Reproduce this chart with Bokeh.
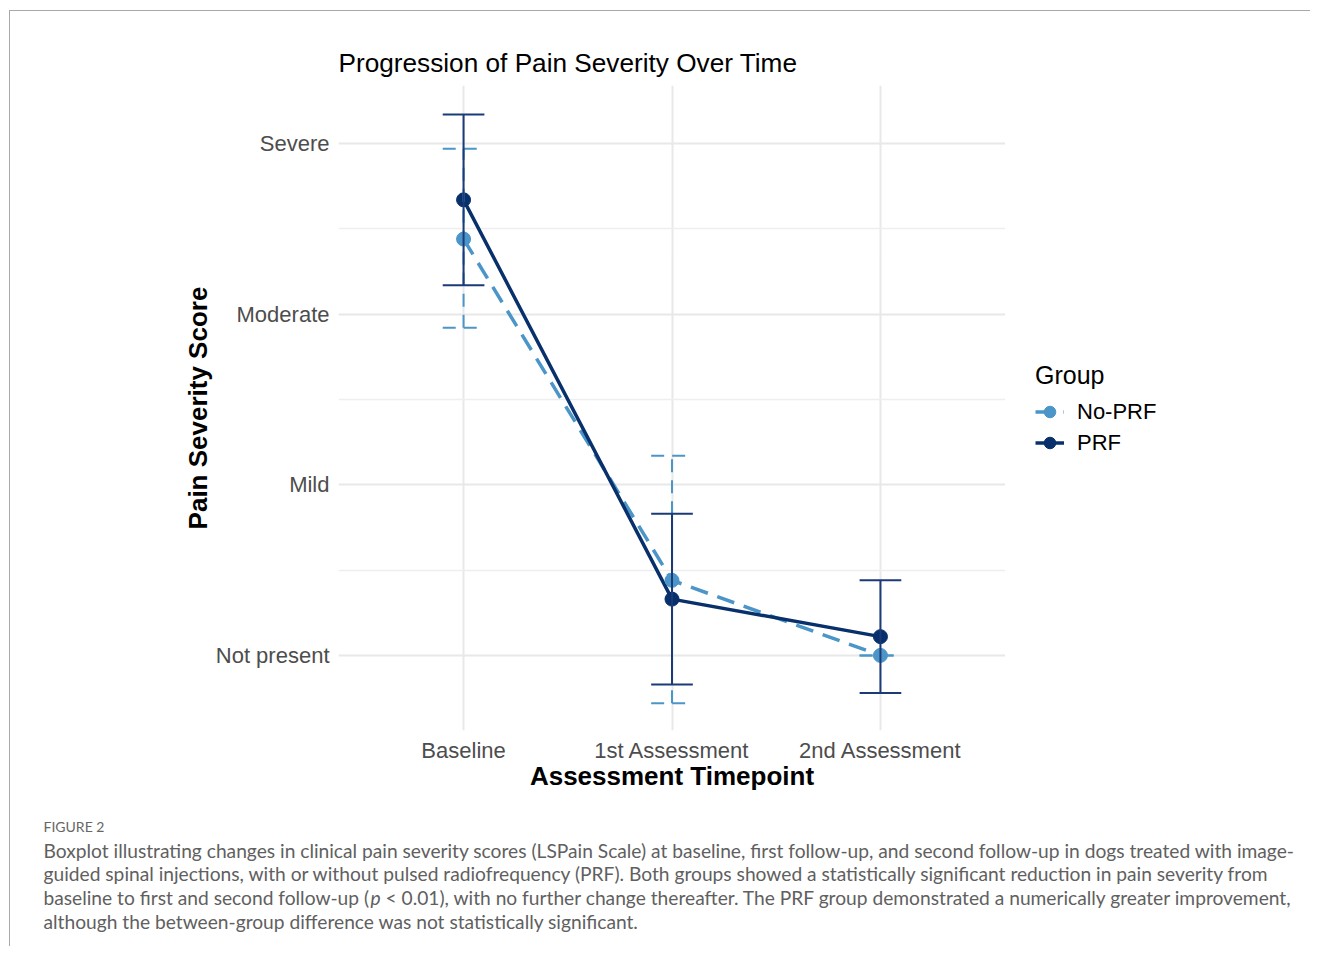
from bokeh.plotting import figure
from bokeh.layouts import column, row
from bokeh.models import FixedTicker, Legend, LegendItem, Label, Range1d, Title
from bokeh.embed import file_html
from bokeh.resources import INLINE

# ---------------- data ----------------
timepoints = ["Baseline", "1st Assessment", "2nd Assessment"]
timepoint_pos = [1, 2, 3]
severity_levels = ["Not present", "Mild", "Moderate", "Severe"]
severity_pos = [0, 1, 2, 3]
severity_minor = [0.5, 1.5, 2.5]

noprf_mean = [2.44, 0.44, 0.0]
noprf_low = [1.92, -0.28, 0.0]
noprf_high = [2.97, 1.17, 0.0]

prf_mean = [2.67, 0.33, 0.11]
prf_low = [2.17, -0.17, -0.22]
prf_high = [3.17, 0.83, 0.44]

group_names = ["No-PRF", "PRF"]

title_text = "Progression of Pain Severity Over Time"
x_label = "Assessment Timepoint"
y_label = "Pain Severity Score"
legend_title = "Group"
caption_head = "FIGURE 2"
caption_lines = [
    "Boxplot illustrating changes in clinical pain severity scores (LSPain Scale) at baseline, first follow-up, and second follow-up in dogs treated with image-",
    "guided spinal injections, with or without pulsed radiofrequency (PRF). Both groups showed a statistically significant reduction in pain severity from",
    "baseline to first and second follow-up (",
    "although the between-group difference was not statistically significant.",
]
caption_p = "p"
caption_line3_rest = "< 0.01), with no further change thereafter. The PRF group demonstrated a numerically greater improvement,"

# ---------------- style ----------------
NOPRF_COLOR = "#4b95c8"
PRF_COLOR = "#08306b"
ERR_PRF_COLOR = "#1a3a78"
FONT = "Liberation Sans"
CAP_FONT = "Lato"

OX, OY = 10, 11                       # page position of canvas origin
TOTAL_W, TOTAL_H = 1300, 935
FL, FT, FR, FB = 338, 85, 1005, 730   # plot frame edges in page px
MAIN_W = FR - OX
MAIN_H = 799
LEG_W = TOTAL_W - MAIN_W
CAP_H = TOTAL_H - MAIN_H

# ---------------- main plot ----------------
p = figure(width=MAIN_W, height=MAIN_H, output_backend="svg", toolbar_location=None,
           x_range=Range1d(0.4, 3.6), y_range=Range1d(-0.44, 3.34),
           min_border_left=FL - OX, min_border_top=FT - OY,
           min_border_right=0, min_border_bottom=OY + MAIN_H - FB)
p.title = Title(text=title_text, align="left", text_font=FONT, text_font_size="26.2px",
                text_font_style="normal", text_color="black", standoff=15)
p.outline_line_color = None
p.background_fill_color = "white"
p.border_fill_color = "white"

p.xaxis.ticker = FixedTicker(ticks=timepoint_pos)
p.xaxis.major_label_overrides = {k: v for k, v in zip(timepoint_pos, timepoints)}
p.yaxis.ticker = FixedTicker(ticks=severity_pos, minor_ticks=severity_minor)
p.yaxis.major_label_overrides = {k: v for k, v in zip(severity_pos, severity_levels)}
for ax in (p.xaxis[0], p.yaxis[0]):
    ax.axis_line_color = None
    ax.major_tick_line_color = None
    ax.minor_tick_line_color = None
    ax.major_tick_out = 0
    ax.major_tick_in = 0
    ax.major_label_text_font = FONT
    ax.major_label_text_font_size = "22px"
    ax.major_label_text_color = "#4d4d4d"
    ax.axis_label_text_font = FONT
    ax.axis_label_text_font_size = "26px"
    ax.axis_label_text_font_style = "bold"
    ax.axis_label_text_color = "black"
p.xaxis.axis_label = x_label
p.yaxis.axis_label = y_label
p.xaxis.major_label_standoff = 7
p.yaxis.major_label_standoff = 5
p.xaxis.axis_label_standoff = -5
p.yaxis.axis_label_standoff = 0

p.xgrid.ticker = FixedTicker(ticks=timepoint_pos)
p.xgrid.grid_line_color = "#e8e8e8"
p.xgrid.grid_line_width = 2
p.ygrid.ticker = FixedTicker(ticks=severity_pos, minor_ticks=severity_minor)
p.ygrid.grid_line_color = "#e8e8e8"
p.ygrid.grid_line_width = 2
p.ygrid.minor_grid_line_color = "#eeeeee"
p.ygrid.minor_grid_line_width = 1.5

p.line(timepoint_pos, noprf_mean, line_color=NOPRF_COLOR, line_width=3.5, line_dash="18 10")
p.line(timepoint_pos, prf_mean, line_color=PRF_COLOR, line_width=3.5)
p.scatter(timepoint_pos, noprf_mean, size=14, fill_color=NOPRF_COLOR, line_color=NOPRF_COLOR)
p.scatter(timepoint_pos, prf_mean, size=14, fill_color=PRF_COLOR, line_color=PRF_COLOR)

cap = 0.1
def errorbars(lo, hi, color, dash):
    p.segment(timepoint_pos, lo, timepoint_pos, hi, line_color=color, line_width=2, line_dash=dash)
    xl = [x - cap for x in timepoint_pos]
    xr = [x + cap for x in timepoint_pos]
    p.segment(xl, hi, xr, hi, line_color=color, line_width=2, line_dash=dash)
    p.segment(xl, lo, xr, lo, line_color=color, line_width=2, line_dash=dash)

errorbars(noprf_low, noprf_high, NOPRF_COLOR, "13 8")
errorbars(prf_low, prf_high, ERR_PRF_COLOR, "solid")

# ---------------- legend panel ----------------
def blank_fig(w, h):
    f = figure(width=w, height=h, output_backend="svg", toolbar_location=None,
               x_axis_type=None, y_axis_type=None,
               x_range=Range1d(100, 101), y_range=Range1d(100, 101),
               min_border=0, min_border_left=0, min_border_right=0,
               min_border_top=0, min_border_bottom=0)
    f.title.visible = False
    f.outline_line_color = None
    f.grid.visible = False
    f.background_fill_color = "white"
    f.border_fill_color = "white"
    return f

lf = blank_fig(LEG_W, MAIN_H)
# same series drawn outside this panel's visible range: they only feed the legend glyphs
lg_l_no = lf.line(timepoint_pos, noprf_mean, line_color=NOPRF_COLOR, line_width=3.5, line_dash="18 10")
lg_s_no = lf.scatter(timepoint_pos, noprf_mean, size=14, fill_color=NOPRF_COLOR, line_color=NOPRF_COLOR)
lg_l_prf = lf.line(timepoint_pos, prf_mean, line_color=PRF_COLOR, line_width=3.5)
lg_s_prf = lf.scatter(timepoint_pos, prf_mean, size=14, fill_color=PRF_COLOR, line_color=PRF_COLOR)
LEG_BOTTOM = 456
legend = Legend(items=[LegendItem(label=group_names[0], renderers=[lg_l_no, lg_s_no]),
                       LegendItem(label=group_names[1], renderers=[lg_l_prf, lg_s_prf])],
                title=legend_title, location=(1035 - FR, 728 - LEG_BOTTOM), orientation="vertical",
                title_text_font=FONT, title_text_font_size="25px", title_text_font_style="normal",
                title_text_color="black", title_standoff=6,
                label_text_font=FONT, label_text_font_size="22px", label_text_color="black",
                glyph_width=29, glyph_height=31, label_height=31, label_standoff=13,
                spacing=0, padding=0, margin=0, border_line_color=None,
                background_fill_alpha=0)
lf.add_layout(legend)

# ---------------- caption panel ----------------
cf = blank_fig(TOTAL_W, CAP_H)
CAP_TOP = OY + MAIN_H
def cap_label(text, px, py, size, color="#606060", style="normal"):
    cf.add_layout(Label(x=px - OX, y=CAP_TOP + CAP_H - py, x_units="screen", y_units="screen",
                        text=text, text_font=CAP_FONT, text_font_size=size, text_color=color,
                        text_font_style=style, text_baseline="middle", text_align="left"))

cap_y = [850, 873, 897, 921]
CAP_SIZE = "19.2px"
cap_label(caption_head, 43, 826, "14px", color="#666666")
cap_label(caption_lines[0], 43, cap_y[0], CAP_SIZE)
cap_label(caption_lines[1], 43, cap_y[1], CAP_SIZE)
cap_label(caption_lines[2], 43, cap_y[2], CAP_SIZE)
cap_label(caption_p, 370, cap_y[2], CAP_SIZE, style="italic")
cap_label(caption_line3_rest, 385, cap_y[2], CAP_SIZE)
cap_label(caption_lines[3], 43, cap_y[3], CAP_SIZE)

layout = column(row(p, lf, spacing=0), cf, spacing=0)
layout.styles = {"border-top": "1px solid #a8a8a8", "border-left": "1px solid #a8a8a8",
                 "margin-left": "9px", "margin-top": "10px"}

open("out.html", "w").write(file_html(layout, INLINE))
